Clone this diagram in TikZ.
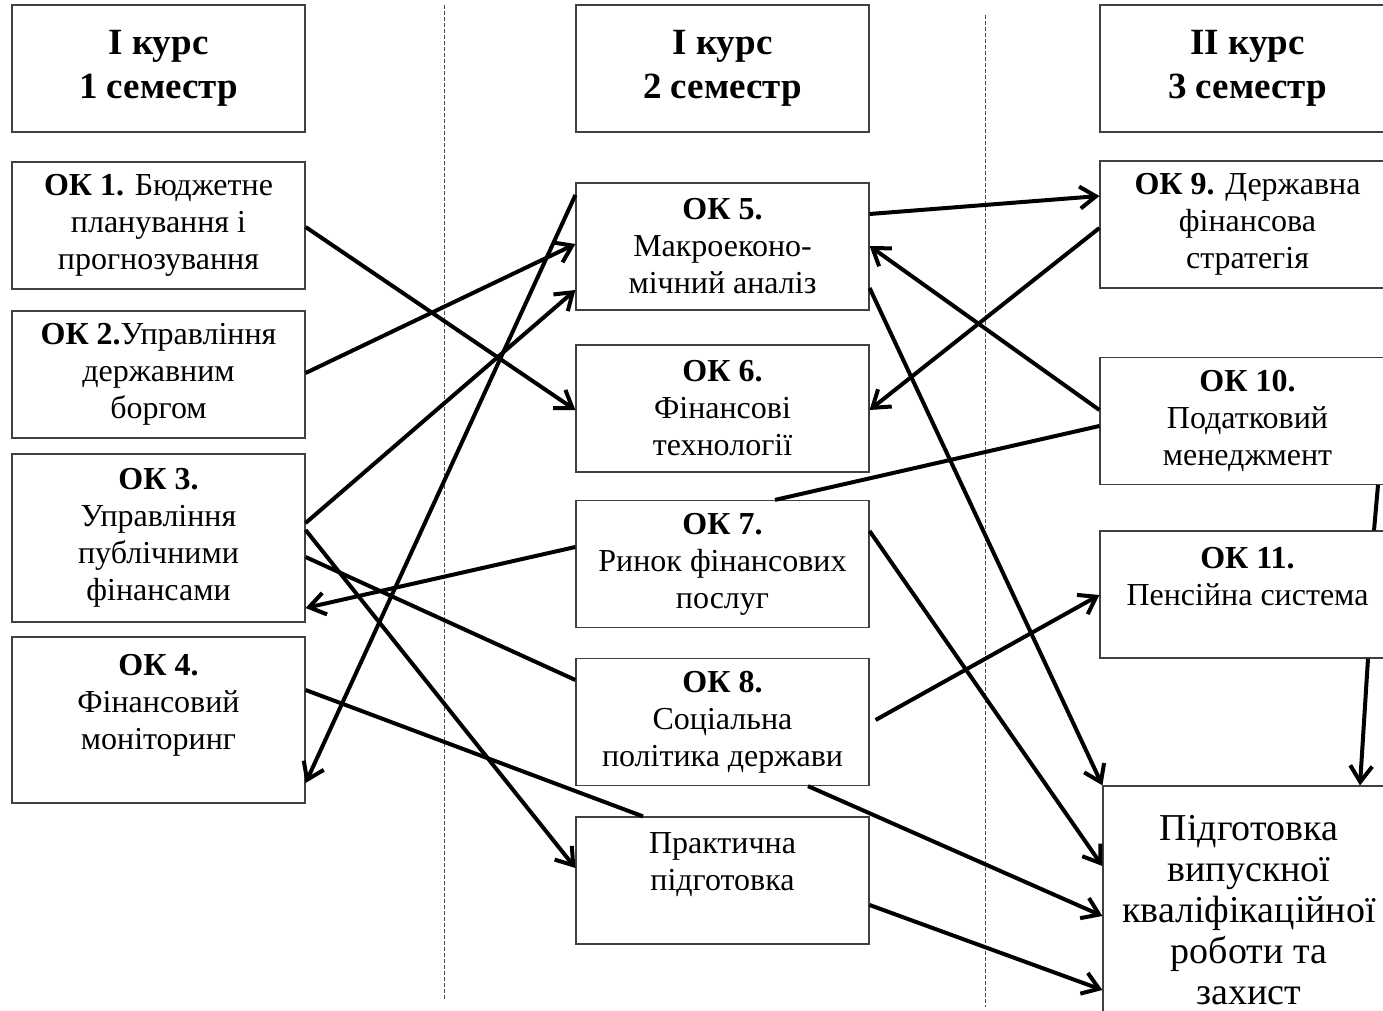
\documentclass[tikz,border=0pt]{standalone}
\usepackage{fontspec}
\setmainfont{Liberation Serif}
\usetikzlibrary{arrows.meta,positioning}

\begin{document}
\begin{tikzpicture}[x=0.5pt, y=-0.5pt,
  box/.style={draw=black!75, line width=0.6pt, minimum width=146.5pt, minimum height=63.5pt,
    inner sep=0pt, align=center, font=\fontsize{16}{18.5}\selectfont},
  head/.style={box, font=\fontsize{18.5}{22}\selectfont\bfseries},
  rbox/.style={box, minimum width=147.5pt},
  arr/.style={line width=2pt, -{Straight Barb[length=8pt,width=11pt]}},
  link/.style={line width=2pt},
  sep/.style={black!70, line width=0.5pt, dash pattern=on 2pt off 1pt}]
  \useasboundingbox (0,0) rectangle (1383,1011);

  % semester separators
  \draw[sep] (444,5) -- (444,1000);
  \draw[sep] (985,15) -- (985,1007);

  % 1st semester
  \node[head] (h1) at (158.5,68.5) {І курс\\1 семестр};
  \node[box] (ok1) at (158.5,225.5) {\textbf{ОК 1.} Бюджетне\\планування і\\прогнозування};
  \node[box] (ok2) at (158.5,374.5) {\textbf{ОК 2.}Управління\\державним\\боргом};
  \node[box, minimum height=84pt] (ok3) at (158.5,538) {\textbf{ОК 3.}\\Управління\\публічними\\фінансами};
  \node[box, minimum height=83pt] (ok4) at (158.5,720) {\textbf{ОК 4.}\\Фінансовий\\моніторинг\\\mbox{}};

  % 2nd semester
  \node[head] (h2) at (722.5,68.5) {І курс\\2 семестр};
  \node[box] (ok5) at (722.5,246.5) {\textbf{ОК 5.}\\Макроеконо-\\мічний аналіз};
  \node[box] (ok6) at (722.5,408.5) {\textbf{ОК 6.}\\Фінансові\\технології};
  \node[box] (ok7) at (722.5,564) {\textbf{ОК 7.}\\Ринок фінансових\\послуг};
  \node[box] (ok8) at (722.5,722) {\textbf{ОК 8.}\\Соціальна\\політика держави};
  \node[box] (pr) at (722.5,880.5) {Практична\\підготовка\\\mbox{}};

  % 3rd semester
  \node[rbox, font=\fontsize{18.5}{22}\selectfont\bfseries] (h3) at (1247.5,68.5) {ІІ курс\\3 семестр};
  \node[rbox] (ok9) at (1247.5,224.5) {\textbf{ОК 9.} Державна\\фінансова\\стратегія};
  \node[rbox] (ok10) at (1247.5,421) {\textbf{ОК 10.}\\Податковий\\менеджмент};
  \node[rbox] (ok11) at (1247.5,594.5) {\textbf{ОК 11.}\\Пенсійна система\\\mbox{}};
  \node[box, minimum width=146pt, minimum height=124pt, font=\fontsize{19}{20.5}\selectfont] (pd) at (1249,910)
    {Підготовка\\випускної\\кваліфікаційної\\роботи та\\захист};

  % links from 1st semester
  \draw[arr] ([yshift=-0.75pt]ok1.east) -- ([yshift=-0.75pt]ok6.west);
  \draw[arr] ([yshift=0.75pt]ok2.east) -- ([yshift=1.25pt]ok5.west);
  \draw[arr] ([yshift=7.5pt]ok3.east) -- ([yshift=-21.75pt]ok5.west);
  \draw[arr] ([yshift=4pt]ok3.east) -- ([yshift=6.25pt]pr.west);
  \draw[link] ([yshift=-9.5pt]ok3.east) -- ([yshift=21pt]ok8.west);
  \draw[link] ([yshift=15pt]ok4.east) -- ([xshift=-39.75pt]pr.north);

  % links from 2nd semester
  \draw[arr] ([yshift=25.75pt]ok5.west) -- ([yshift=-31.5pt]ok4.east);
  \draw[arr] ([yshift=8.5pt]ok7.west) -- ([yshift=-35pt]ok3.east);
  \draw[arr] ([yshift=16.25pt]ok5.east) -- ([yshift=14.25pt]ok9.west);
  \draw[arr] ([yshift=-20.75pt]ok5.east) -- (pd.north west);
  \draw[arr] ([yshift=16.5pt]ok7.east) -- ([yshift=22pt]pd.west);
  \draw[arr] ([xshift=3pt,yshift=1pt]ok8.east) -- ([yshift=-0.25pt]ok11.west);
  \draw[arr] ([xshift=42.75pt]ok8.south) -- ([yshift=-3pt]pd.west);
  \draw[arr] ([yshift=-12.25pt]pr.east) -- ([yshift=-40pt]pd.west);

  % links from 3rd semester
  \draw[arr] ([yshift=-1.75pt]ok9.west) -- ([yshift=-0.75pt]ok6.east);
  \draw[arr] ([yshift=5.5pt]ok10.west) -- ([yshift=0.25pt]ok5.east);
  \draw[link] ([yshift=-2.5pt]ok10.west) -- ([xshift=26.25pt]ok7.north);
  \draw[link] ([xshift=65.25pt]ok10.south) -- ([xshift=63.25pt]ok11.north);
  \draw[arr] ([xshift=60.25pt]ok11.south) -- ([xshift=55.5pt]pd.north);
\end{tikzpicture}
\end{document}
